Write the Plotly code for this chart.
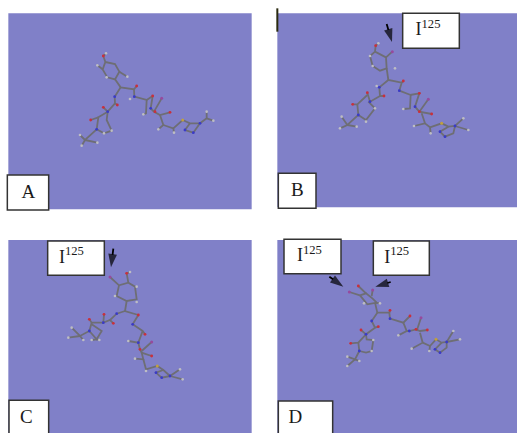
import plotly.graph_objects as go

PANEL_LABELS = ["A", "B", "C", "D"]
ISOTOPE_TEXT = "I<sup>125</sup>"
OFFSETS = {"A": (0, 0), "B": (780, 0), "C": (0, 648), "D": (780, 648)}

A_bonds = [
    [(316,186),(345,192),(358,215),(345,238),(322,232),(308,208),(316,186),(310,168),(318,160)],
    [(345,238),(362,262),(402,268),(403,290),(440,300),(438,340),(430,343)],
    [(402,268),(410,258)], [(308,208),(292,196)], [(358,215),(382,230)],
    [(362,262),(344,290),(345,310),(352,315)], [(345,310),(323,335),(310,322)],
    [(323,335),(295,352),(290,388),(255,420),(240,405)], [(255,420),(245,437)], [(255,420),(292,428)],
    [(295,352),(272,360)], [(323,335),(320,360),(335,392),(312,400),(290,388)],
    [(440,300),(458,288),(452,325),(462,335),(480,345),(510,337)], [(480,345),(490,375),(475,388)],
    [(490,375),(520,385),(522,398)], [(520,385),(548,360),(570,370),(600,370),(620,355),(620,335)],
    [(620,355),(640,362)], [(570,370),(555,390),(580,398),(600,370)], [(462,335),(485,295)],
]
A_O = [(310,168),(410,258),(352,315),(310,322),(272,360),(458,288),(510,337),(465,335)]
A_N = [(403,290),(344,290),(323,335),(290,388),(452,325),(600,370),(555,390),(580,398)]
A_S = [(548,360)]
A_I = [(485,295)]
A_H = [(318,160),(292,196),(320,232),(382,230),(390,297),(430,343),(240,405),(245,437),(292,428),(335,392),(312,400),(475,388),(522,398),(620,335),(640,362)]

B_bonds = [
    [(345,155),(378,172),(380,205),(360,212),(338,198),(330,168),(345,155),(347,137),(355,130)],
    [(378,172),(397,155)], [(380,205),(385,240),(425,248),(418,272),(452,285),(450,325),(430,327)],
    [(425,248),(430,243)], [(385,240),(358,262),(360,288),(372,288)], [(360,288),(330,305),(322,278)],
    [(322,285),(292,313),(278,313)], [(292,313),(295,345),(262,375),(240,385)], [(262,375),(245,350)],
    [(262,375),(290,380)], [(295,345),(318,360),(345,325),(325,305)], [(318,360),(318,365)],
    [(450,285),(478,280),(465,320),(478,335),(515,342)], [(485,340),(495,370),(462,378)],
    [(495,370),(510,382),(512,400)], [(510,382),(545,370),(565,380),(585,378),(610,355)],
    [(585,378),(625,390)], [(565,380),(540,395),(555,410),(580,400),(585,378)], [(478,335),(505,298)],
]
B_O = [(347,137),(430,243),(372,288),(322,278),(278,313),(478,280),(478,335),(515,342)]
B_N = [(418,272),(358,262),(330,305),(295,345),(465,320),(585,378),(540,395),(555,410)]
B_S = [(545,370)]
B_I = [(397,155),(505,298)]
B_H = [(355,130),(330,168),(338,198),(405,205),(350,258),(430,327),(240,385),(245,350),(290,380),(318,365),(345,325),(462,378),(512,400),(610,355),(625,390)]

C_bonds = [
    [(330,183),(357,208),(385,200),(405,212),(410,250),(380,255),(350,240),(357,208)],
    [(385,200),(380,172),(390,168)], [(380,255),(375,285),(415,297)], [(375,285),(350,293),(330,312),(340,322)],
    [(330,312),(310,320),(312,295)], [(310,320),(275,320),(268,310)], [(275,320),(268,345),(240,360),(215,335)],
    [(240,360),(205,365)], [(240,360),(250,372)], [(268,345),(290,370),(305,345),(275,325)],
    [(290,370),(275,372)], [(290,370),(298,372)], [(415,297),(398,325),(428,345),(435,355)],
    [(428,345),(415,380),(385,375)], [(415,380),(420,400),(425,410),(455,420)], [(425,410),(430,430),(405,428)],
    [(430,430),(438,460),(472,450),(490,462),(510,480),(540,460)], [(510,480),(548,490)],
    [(490,462),(468,470),(485,485),(510,480)], [(425,405),(455,378)],
]
C_O = [(380,172),(415,297),(340,322),(312,295),(268,310),(435,355),(420,400),(455,420)]
C_N = [(350,293),(310,320),(268,345),(398,325),(415,380),(510,480),(468,470),(485,485)]
C_S = [(472,450)]
C_I = [(330,183),(455,378)]
C_H = [(390,168),(410,212),(410,258),(345,240),(215,335),(205,365),(250,372),(275,372),(298,372),(385,375),(405,428),(438,465),(540,460),(548,490)]

D_bonds = [
    [(300,238),(318,232),(338,248),(350,260),(322,265),(310,250),(300,238)], [(268,228),(300,238)],
    [(318,232),(295,210)], [(335,240),(338,222)], [(345,260),(360,262)],
    [(345,260),(352,290),(388,290),(390,308),(430,320),(450,300)], [(388,290),(390,283)],
    [(430,320),(440,345),(415,358)], [(440,345),(448,345),(468,340),(480,345),(502,342)],
    [(470,345),(483,305)], [(480,350),(488,380),(455,398)], [(488,380),(510,390),(508,405)],
    [(510,390),(528,370),(545,380),(560,378),(580,345)], [(560,378),(600,370)],
    [(545,380),(525,400),(540,410),(560,395),(560,378)],
    [(352,290),(335,315),(345,335),(355,332)], [(345,335),(318,355),(303,342)],
    [(318,355),(295,380),(272,382)], [(295,380),(298,405),(285,430),(262,422)], [(285,430),(262,450)],
    [(285,430),(298,435)], [(318,355),(320,370),(340,372),(335,405),(318,410),(298,405)],
]
D_O = [(295,210),(390,283),(450,300),(468,340),(502,342),(355,332),(303,342),(272,382)]
D_N = [(390,308),(448,345),(560,378),(525,400),(540,410),(335,315),(318,355),(298,405)]
D_S = [(528,370)]
D_I = [(268,228),(338,222),(483,305)]
D_H = [(360,262),(312,262),(415,358),(455,398),(508,405),(580,345),(600,370),(340,372),(335,405),(262,422),(262,450),(298,435)]

BONDS = {"A": A_bonds, "B": B_bonds, "C": C_bonds, "D": D_bonds}
ATOMS = {
    "H": ({"A": A_H, "B": B_H, "C": C_H, "D": D_H}, "#bdbdc4", 2.6),
    "O": ({"A": A_O, "B": B_O, "C": C_O, "D": D_O}, "#c8303c", 2.8),
    "N": ({"A": A_N, "B": B_N, "C": C_N, "D": D_N}, "#3a3ac8", 2.8),
    "S": ({"A": A_S, "B": B_S, "C": C_S, "D": D_S}, "#c0a040", 3),
    "I": ({"A": A_I, "B": B_I, "C": C_I, "D": D_I}, "#964a9e", 3),
}

PANEL_BOXES = {"A": (25,40,755,628), "B": (52,40,771,622), "C": (25,72,755,651), "D": (52,72,771,651)}
LABEL_BOXES = {"A": (22,525,146,630), "B": (55,520,168,625), "C": (27,553,146,660), "D": (55,555,218,660)}
LABEL_POS = {"A": (85,580), "B": (112,575), "C": (79,607), "D": (106,607)}
ISO_BOXES = {"B": [(428,40,598,145)], "C": [(143,75,313,178)], "D": [(72,70,243,173),(340,75,508,178)]}
ISO_POS = {"B": [(504,92)], "C": [(214,126)], "D": [(148,122),(410,126)]}
ARROWS = {"B": [(380,72,396,126)], "C": [(340,98,333,154)], "D": [(208,182,250,212),(392,198,346,212)]}

fig = go.Figure()
shapes = []

def rect(p, box, fill, line=None, w=0):
    ox, oy = OFFSETS[p]
    shapes.append(dict(type="rect", layer="below", x0=box[0]+ox, y0=box[1]+oy, x1=box[2]+ox, y1=box[3]+oy,
                       fillcolor=fill, line=dict(color=line or fill, width=w)))

def label(x, y, text, size):
    fig.add_trace(go.Scatter(x=[x], y=[y], mode="text", text=[text], textposition="middle center", hoverinfo="skip",
                             textfont=dict(family="Liberation Serif", size=size, color="#1a1a1a")))

for p in PANEL_LABELS:
    ox, oy = OFFSETS[p]
    rect(p, PANEL_BOXES[p], "#8080c8")
    xs, ys = [], []
    for chain in BONDS[p]:
        xs += [c[0]+ox for c in chain] + [None]
        ys += [c[1]+oy for c in chain] + [None]
    fig.add_trace(go.Scatter(x=xs, y=ys, mode="lines", line=dict(color="#6e6e74", width=1.8), hoverinfo="skip"))
    for el, (table, colour, size) in ATOMS.items():
        pts = table[p]
        fig.add_trace(go.Scatter(x=[a[0]+ox for a in pts], y=[a[1]+oy for a in pts], mode="markers",
                                 marker=dict(color=colour, size=size, line=dict(width=0)), hoverinfo="skip"))

for p in PANEL_LABELS:
    ox, oy = OFFSETS[p]
    rect(p, LABEL_BOXES[p], "white", "#333333", 1.5)
    label(LABEL_POS[p][0]+ox, LABEL_POS[p][1]+oy, p, 19)
    for box in ISO_BOXES.get(p, []):
        rect(p, box, "white", "#333333", 1.5)
    for pos in ISO_POS.get(p, []):
        label(pos[0]+ox, pos[1]+oy, ISOTOPE_TEXT, 18)
    for a in ARROWS.get(p, []):
        fig.add_trace(go.Scatter(x=[a[0]+ox, a[2]+ox], y=[a[1]+oy, a[3]+oy], mode="lines+markers",
                                 line=dict(color="#000000", width=1.8), hoverinfo="skip",
                                 marker=dict(symbol="arrow", size=[0, 14], angleref="previous", color="#000000",
                                             line=dict(width=0))))

# small dark tick at the top-left of panel B
TICK = (52,25,52,95)
ox, oy = OFFSETS["B"]
shapes.append(dict(type="line", x0=TICK[0]+ox, y0=TICK[1]+oy, x1=TICK[2]+ox, y1=TICK[3]+oy,
                   line=dict(color="#2a2a10", width=2)))

fig.update_layout(
    width=517, height=433, margin=dict(l=0, r=0, t=0, b=0), showlegend=False,
    paper_bgcolor="white", plot_bgcolor="white", shapes=shapes,
    xaxis=dict(range=[0,1551], visible=False, fixedrange=True),
    yaxis=dict(range=[1299,0], visible=False, fixedrange=True),
)
fig.write_html("out.html", config={"displayModeBar": False},
               post_script="document.body.style.margin='0';document.body.style.overflow='hidden';")
